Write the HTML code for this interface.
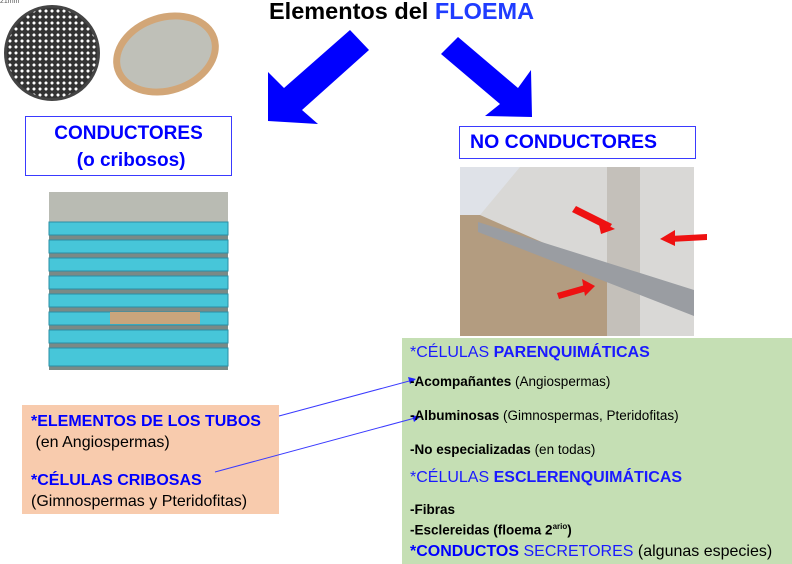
<!DOCTYPE html>
<html><head><meta charset="utf-8"><style>
body{margin:0;width:792px;height:564px;position:relative;background:#fff;font-family:"Liberation Sans",sans-serif;overflow:hidden}
.a{position:absolute;white-space:nowrap}
.b{color:#0000ff;font-weight:bold}
.bl{color:#1a1aff}
</style></head><body>
<div class="a" style="left:0;top:-2px;font-size:7px;color:#555">21mm</div>
<div class="a" style="left:4px;top:5px;width:96px;height:96px;border-radius:50%;background:radial-gradient(circle,#fff 1.3px,#333 1.8px) 0 0/6px 6px;border:3px solid #444;box-sizing:border-box"></div>
<div class="a" style="left:112px;top:14px;width:108px;height:80px;border-radius:50%;border:7px solid #d2a677;background:#bfc0b8;box-sizing:border-box;transform:rotate(-18deg)"></div>
<div class="a" style="left:269px;top:-2px;font-size:23.5px;font-weight:bold;color:#000">Elementos del <span style="color:#1f3cff">FLOEMA</span></div>
<div class="a" style="left:22px;top:405px;width:257px;height:109px;background:#f8cbad"></div>
<div class="a" style="left:402px;top:338px;width:390px;height:226px;background:#c5dfb4"></div>
<svg class="a" style="left:0;top:0" width="792" height="564">
<polygon points="350,30 369,50 302,110 318,124 268,121 268,72 284,88" fill="#0000ff"/>
<polygon points="458,37 441,54 500,104 485,116 532,117 531,70 518,88" fill="#0000ff"/>
<line x1="279" y1="416" x2="413" y2="380" stroke="#3a3aff" stroke-width="1"/>
<line x1="215" y1="472" x2="415" y2="418" stroke="#3a3aff" stroke-width="1"/>
<polygon points="408,377 416,379 410,384" fill="#2222ff"/>
<polygon points="412,415 420,417 414,422" fill="#2222ff"/>
<!-- pipes photo -->
<rect x="49" y="192" width="179" height="178" fill="#7a8a86"/>
<rect x="49" y="192" width="179" height="30" fill="#b9bbb3"/>
<g fill="#47c6d9" stroke="#2a8fa5" stroke-width="1">
<rect x="49" y="222" width="179" height="13"/><rect x="49" y="240" width="179" height="13"/><rect x="49" y="258" width="179" height="13"/><rect x="49" y="276" width="179" height="13"/><rect x="49" y="294" width="179" height="13"/><rect x="49" y="312" width="179" height="13"/><rect x="49" y="330" width="179" height="13"/><rect x="49" y="348" width="179" height="18"/>
</g>
<rect x="110" y="312" width="90" height="12" fill="#c9a57c"/>
<!-- wall photo -->
<rect x="460" y="167" width="234" height="169" fill="#d9d8d6"/>
<polygon points="460,167 520,167 480,215 460,215" fill="#dfe2e8"/>
<polygon points="460,215 480,215 560,250 620,290 620,336 460,336" fill="#b39c80"/>
<rect x="607" y="167" width="33" height="169" fill="#c4c0ba"/>
<polygon points="478,222 694,290 694,316 478,232" fill="#9a9da2"/>
<polygon points="576,206 612,224 608,230 572,212" fill="#e11"/><polygon points="598,220 615,229 601,234" fill="#e11"/>
<polygon points="707,234 670,236 670,242 707,240" fill="#e11"/><polygon points="675,230 660,239 675,246" fill="#e11"/>
<polygon points="557,293 585,285 587,291 559,299" fill="#e11"/><polygon points="582,279 595,286 585,296" fill="#e11"/>
</svg>
<div class="a" style="left:25px;top:116px;width:207px;height:60px;border:1px solid #3a3aff;box-sizing:border-box;font-size:19px;font-weight:bold;color:#0000ff;text-align:center;line-height:27px;padding-top:3px">CONDUCTORES<br>&nbsp;(o cribosos)</div>
<div class="a" style="left:459px;top:126px;width:237px;height:33px;border:1px solid #3a3aff;box-sizing:border-box;font-size:19.5px;font-weight:bold;color:#0000ff;line-height:31px;padding-left:10px">NO CONDUCTORES</div>
<div class="a" style="left:31px;top:411px;font-size:16px;line-height:21px"><span class="b">*ELEMENTOS DE LOS TUBOS</span><br>&nbsp;(en Angiospermas)</div>
<div class="a" style="left:31px;top:470px;font-size:16px;line-height:21px"><span class="b">*CÉLULAS CRIBOSAS</span><br>(Gimnospermas y Pteridofitas)</div>
<div class="a bl" style="left:410px;top:344px;font-size:16px">*CÉLULAS <b>PARENQUIMÁTICAS</b></div>
<div class="a" style="left:410px;top:374px;font-size:13.5px"><b>-Acompañantes</b> (Angiospermas)</div>
<div class="a" style="left:410px;top:408px;font-size:13.5px"><b>-Albuminosas</b> (Gimnospermas, Pteridofitas)</div>
<div class="a" style="left:410px;top:442px;font-size:13.5px"><b>-No especializadas</b> (en todas)</div>
<div class="a bl" style="left:410px;top:469px;font-size:16px">*CÉLULAS <b>ESCLERENQUIMÁTICAS</b></div>
<div class="a" style="left:410px;top:501px;font-size:13.5px;line-height:17px;font-weight:bold">-Fibras<br>-Esclereidas (floema 2<sup style="font-size:8px">ario</sup>)</div>
<div class="a" style="left:410px;top:543px;font-size:16px"><b style="color:#0000ff">*CONDUCTOS</b> <span class="bl">SECRETORES</span> (algunas especies)</div>
</body></html>
